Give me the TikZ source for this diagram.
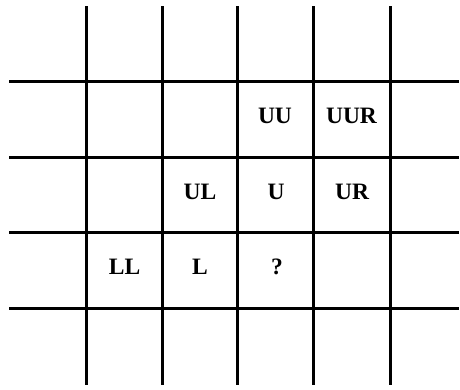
\documentclass[tikz,border=0pt]{standalone}
\usepackage{fontspec}
\setmainfont{Liberation Serif}
\begin{document}
\begin{tikzpicture}[x=1pt,y=-1pt,
  gridline/.style={line width=3pt,black},
  lbl/.style={font=\fontsize{23.5}{25}\selectfont\bfseries,anchor=base,inner sep=0pt}]
\useasboundingbox (0,0) rectangle (460,389);
% vertical lines
\foreach \x/\n in {86/a,162/b,237/c,313/d,390/e}{
  \coordinate (vt\n) at (\x,6);
  \coordinate (vb\n) at (\x,385);
  \draw[gridline] (vt\n) -- (vb\n);
}
% horizontal lines
\foreach \y/\n in {81/a,157/b,232/c,308/d}{
  \coordinate (hl\n) at (9,\y);
  \coordinate (hr\n) at (459,\y);
  \draw[gridline] (hl\n) -- (hr\n);
}
\node[lbl] (UU) at (275,123) {UU};
\node[lbl] (UUR) at (351.5,123) {UUR};
\node[lbl] (UL) at (200,199) {UL};
\node[lbl] (U) at (276,199) {U};
\node[lbl] (UR) at (352,199) {UR};
\node[lbl] (LL) at (124.5,274) {LL};
\node[lbl] (L) at (200,274) {L};
\node[lbl] (Q) at (277,274) {?};
\end{tikzpicture}
\end{document}
